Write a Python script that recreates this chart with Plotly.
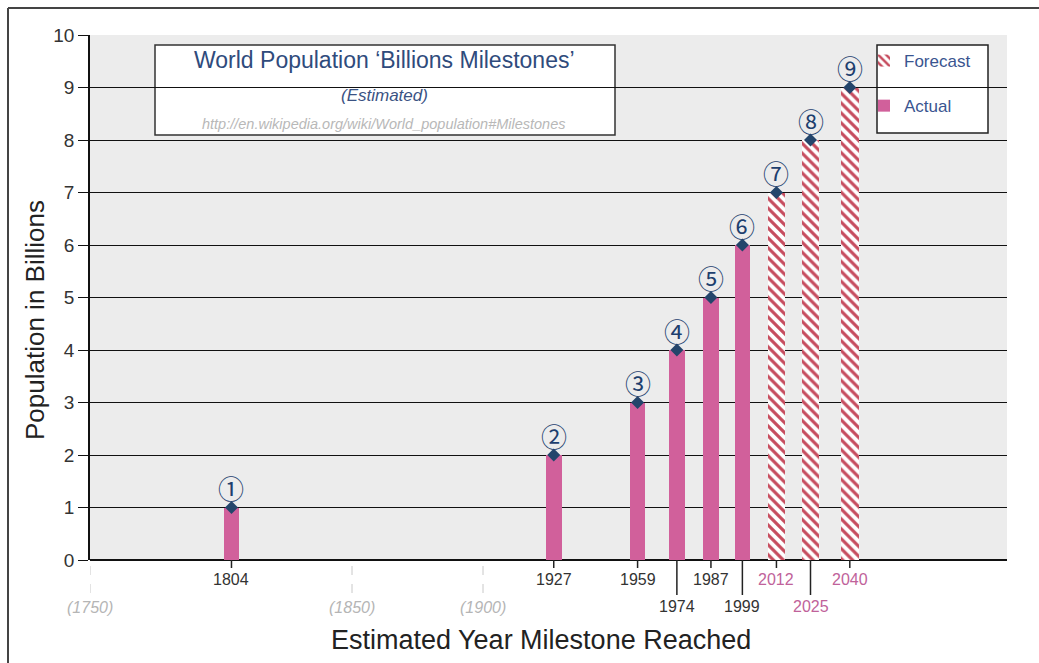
import plotly.graph_objects as go

# ---- data ----
actual_years = [1804, 1927, 1959, 1974, 1987, 1999]
actual_pop = [1, 2, 3, 4, 5, 6]
forecast_years = [2012, 2025, 2040]
forecast_pop = [7, 8, 9]
milestone_labels = ["①", "②", "③", "④", "⑤", "⑥", "⑦", "⑧", "⑨"]
row1_years = [1804, 1927, 1959, 1987, 2012, 2040]
row2_years = [1974, 1999, 2025]
ref_years = [1750, 1850, 1900]
y_ticks = list(range(0, 11))

W, H = 1039, 663
L, R, T, B = 90, 32, 35, 103
PW, PH = W - L - R, H - T - B


def px(xp):
    return (xp - L) / PW


def py(yp):
    return (H - B - yp) / PH


PINK = "#d1609b"
HATCH = "#c64c5e"
NAVY = "#24456b"
FONT = "Liberation Sans, Arial, sans-serif"

fig = go.Figure()

fig.add_trace(go.Bar(
    x=forecast_years, y=forecast_pop, width=6.8, name="Forecast",
    marker=dict(color="white", line=dict(width=0),
                pattern=dict(shape="\\", fgcolor=HATCH, bgcolor="white", fgopacity=1,
                             fillmode="replace", size=7, solidity=0.45)),
    legendrank=1,
))
fig.add_trace(go.Bar(
    x=actual_years, y=actual_pop, width=6, name="Actual",
    marker=dict(color=PINK, line=dict(width=0)), legendrank=2,
))

all_years = actual_years + forecast_years
all_pop = actual_pop + forecast_pop
fig.add_trace(go.Scatter(
    x=all_years, y=all_pop, mode="markers",
    marker=dict(symbol="diamond", size=10, color=NAVY), showlegend=False, hoverinfo="skip",
))

annotations = []
for yr, p, lab in zip(all_years, all_pop, milestone_labels):
    annotations.append(dict(x=yr, y=p, xref="x", yref="y", text=lab, showarrow=False,
                            xanchor="center", yanchor="middle",
                            yshift=20, font=dict(family="Noto Sans CJK JP, DejaVu Sans", size=26, color="#1e3f6e")))

for yr in row1_years:
    col = "#c0629a" if yr in forecast_years else "#333333"
    annotations.append(dict(x=yr, y=py(579), xref="x", yref="paper", text=str(yr), showarrow=False,
                            xanchor="center", yanchor="middle",
                            font=dict(family=FONT, size=16, color=col)))
for yr in row2_years:
    col = "#c0629a" if yr in forecast_years else "#333333"
    annotations.append(dict(x=yr, y=py(606), xref="x", yref="paper", text=str(yr), showarrow=False,
                            xanchor="center", yanchor="middle",
                            font=dict(family=FONT, size=16, color=col)))
for yr in ref_years:
    annotations.append(dict(x=yr, y=py(607), xref="x", yref="paper", text="<i>(%d)</i>" % yr, showarrow=False,
                            xanchor="center", yanchor="middle",
                            font=dict(family=FONT, size=16, color="#b5b5b5")))

# title box text
annotations += [
    dict(x=px(384), y=py(60), xref="paper", yref="paper", showarrow=False, xanchor="center", yanchor="middle",
         text="World Population ‘Billions Milestones’", font=dict(family=FONT, size=23, color="#2f4b7c")),
    dict(x=px(384), y=py(95), xref="paper", yref="paper", showarrow=False, xanchor="center", yanchor="middle",
         text="<i>(Estimated)</i>", font=dict(family=FONT, size=17, color="#3a5283")),
    dict(x=px(384), y=py(124), xref="paper", yref="paper", showarrow=False, xanchor="center", yanchor="middle",
         text="<i>http://en.wikipedia.org/wiki/World_population#Milestones</i>",
         font=dict(family=FONT, size=14.5, color="#b8b8b8")),
    dict(x=px(35), y=py(320), xref="paper", yref="paper", showarrow=False, xanchor="center", yanchor="middle",
         textangle=-90, text="Population in Billions", font=dict(family=FONT, size=26, color="#222222")),
    dict(x=px(541), y=py(640), xref="paper", yref="paper", showarrow=False, xanchor="center", yanchor="middle",
         text="Estimated Year Milestone Reached", font=dict(family=FONT, size=27, color="#222222")),
]

shapes = []
for yr in row1_years:
    shapes.append(dict(type="line", xref="x", yref="paper", x0=yr, x1=yr, y0=0, y1=py(568),
                       line=dict(color="#222222", width=1.5)))
for yr in row2_years:
    shapes.append(dict(type="line", xref="x", yref="paper", x0=yr, x1=yr, y0=0, y1=py(595),
                       line=dict(color="#222222", width=1.5)))
for yr in ref_years:
    shapes.append(dict(type="line", xref="x", yref="paper", x0=yr, x1=yr, y0=py(566), y1=py(596),
                       line=dict(color="#c8c8c8", width=1, dash="dash")))
# title box and legend box
shapes.append(dict(type="rect", xref="paper", yref="paper", x0=px(155), x1=px(615), y0=py(135), y1=py(45),
                   line=dict(color="#333333", width=1.5), fillcolor="white", layer="below"))
shapes.append(dict(type="rect", xref="paper", yref="paper", x0=px(877), x1=px(988), y0=py(133), y1=py(45),
                   line=dict(color="#222222", width=1.5), fillcolor="white", layer="below"))
# outer frame
shapes.append(dict(type="line", xref="paper", yref="paper", x0=px(8), x1=px(8), y0=py(663), y1=py(8),
                   line=dict(color="#444444", width=2)))
shapes.append(dict(type="line", xref="paper", yref="paper", x0=px(8), x1=px(1039), y0=py(8), y1=py(8),
                   line=dict(color="#444444", width=2)))

fig.update_layout(
    width=W, height=H, margin=dict(l=L, r=R, t=T, b=B),
    paper_bgcolor="white", plot_bgcolor="#ececec",
    barmode="overlay", bargap=0,
    annotations=annotations, shapes=shapes,
    legend=dict(x=px(864), y=py(43), xanchor="left", yanchor="top", bgcolor="rgba(0,0,0,0)",
                borderwidth=0, font=dict(family=FONT, size=17, color="#3a5590"),
                tracegroupgap=20, traceorder="grouped"),
    showlegend=True,
)
fig.data[0].legendgroup = "f"
fig.data[1].legendgroup = "a"

fig.update_xaxes(range=[1750, 2100], showgrid=False, showticklabels=False, ticks="",
                 zeroline=False, showline=False, fixedrange=True)
fig.update_yaxes(range=[0, 10], tickvals=y_ticks, showgrid=True, gridcolor="#111111", gridwidth=1,
                 showline=True, linecolor="#111111", linewidth=1.5, ticks="outside", ticklen=10,
                 tickcolor="#111111", zeroline=True, zerolinecolor="#111111", zerolinewidth=1.5,
                 tickfont=dict(family=FONT, size=19, color="#333333"))

fig.write_html("out.html")
